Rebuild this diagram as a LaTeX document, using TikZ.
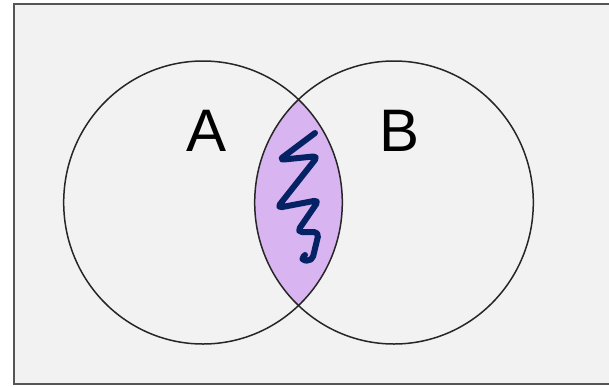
\documentclass[tikz,border=0pt]{standalone}
\usepackage{fontspec}
\setmainfont{Liberation Sans}
\definecolor{framegray}{RGB}{85,85,85}
\definecolor{panelgray}{RGB}{242,242,242}
\definecolor{lensviolet}{RGB}{216,180,240}
\definecolor{scribblenavy}{RGB}{5,35,100}
\tikzset{
	setcircle/.style={draw=black!85, line width=1.5},
	setlabel/.style={font=\fontsize{60}{60}\selectfont, text=black},
	scribble/.style={draw=scribblenavy, line width=6, line cap=round, line join=round, rounded corners=5}
}
\begin{document}
\begin{tikzpicture}[x=1pt, y=-1pt]
		\useasboundingbox (0,0) rectangle (609,386);
		\clip (0,0) rectangle (609,386);
		
		% Frame
		\draw[framegray, fill=panelgray, line width=2.2] (14,4) rectangle (620,384);
		
		% Centres
		\coordinate (cA) at (203,202.5);
		\coordinate (cB) at (394,202.5);
		
		% Shaded intersection
		\begin{scope}
			\clip (cA) ellipse (139.3 and 141.5);
			\fill[lensviolet] (cB) ellipse (139.3 and 141.5);
		\end{scope}
		
		% Scribble inside the lens
		\draw[scribble] (315,133) -- (279,160) -- (318,156) -- (277,208) -- (319,200) -- (297,232) -- (319,232) -- (312,261) -- (300,260) -- (305,255);
		
		% Sets
		\draw[setcircle] (cA) ellipse (139.3 and 141.5);
		\draw[setcircle] (cB) ellipse (139.3 and 141.5);
		
		% Labels
		\node[setlabel] (labelA) at (207,131) {A};
		\node[setlabel] (labelB) at (400,131) {B};
		
	\end{tikzpicture}
\end{document}
